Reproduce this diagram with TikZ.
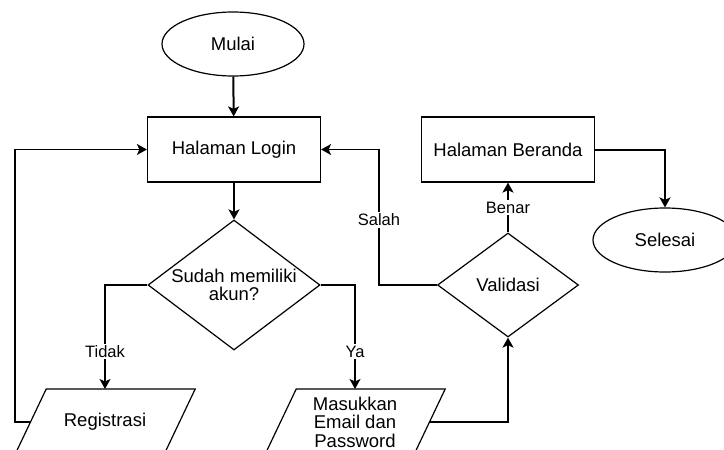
\documentclass[tikz,border=0pt]{standalone}
\usepackage{fontspec}
\setmainfont{Liberation Sans}
\usetikzlibrary{positioning,shapes.geometric,arrows.meta}
\newcommand{\ioframe}[1]{\draw[line width=1.2pt] ([xshift=15.7pt]#1.north west) -- ([xshift=15.7pt]#1.north east)
  -- ([xshift=-15.7pt]#1.south east) -- ([xshift=-15.7pt]#1.south west) -- cycle;}

\begin{document}
\begin{tikzpicture}[x=1pt, y=-1pt, >={Stealth[length=10pt,width=11pt,inset=2.5pt]},
      every node/.style={font=\fontsize{18.5}{18.5}\selectfont},
      terminal/.style={ellipse, draw, line width=1.2pt, minimum width=142pt, minimum height=64pt, inner sep=0pt},
      process/.style={rectangle, draw, line width=1.2pt, minimum width=173pt, minimum height=65pt},
      decision/.style={diamond, draw, line width=1.2pt, inner sep=0pt},
      io/.style={rectangle, minimum width=149pt, minimum height=66pt, inner sep=0pt, outer sep=0pt, align=center},
      lbl/.style={fill=white, inner sep=1.5pt, font=\fontsize{16.5}{18}\selectfont},
      flow/.style={line width=2pt, ->},
      link/.style={line width=1.2pt, ->}]
      \useasboundingbox (0,0) rectangle (724,450);
      \clip (0,0) rectangle (724,450);
      \coordinate (loopx) at (15,0);
      \coordinate (salahx) at (379,0);
      \node (mulai) at (233,44) [terminal] {Mulai};
      \node (login) at (234,149.5) [process] {Halaman Login};
      \draw[flow] (mulai) -- (login);
      \node (sudah) at (234,285) [decision, minimum width=172pt, minimum height=130pt, label={[align=center]center:Sudah memiliki\\akun?}] {};
      \draw[flow] (login) -- (sudah);
      \node (reg) at (105,422) [io] {Registrasi};
      \ioframe{reg}
      \draw[link] (sudah.west) -| node[lbl, pos=0.82] {Tidak} (reg.north);
      \node (masuk) at (355,422) [io] {Masukkan\\Email dan\\Password};
      \ioframe{masuk}
      \draw[link] (sudah.east) -| node[lbl, pos=0.82] {Ya} (masuk.north);
      % back to login
      \draw[link] (reg.west) -- (reg.west -| loopx) |- (login.west);
      \node (val) at (508,285) [decision, minimum width=141pt, minimum height=104pt] {Validasi};
      \draw[flow] (masuk.east) -| (val.south);
      \draw[link] (val.west) -- (val.west -| salahx) |- node[lbl, pos=0.24] {Salah} (login.east);
      \node (beranda) at (508,149.5) [process] {Halaman Beranda};
      \draw[flow] (val) -- node[lbl] {Benar} (beranda);
      \node (selesai) at (665,240) [terminal, minimum width=144pt] {Selesai};
      \draw[flow] (beranda.east) -| (selesai.north);
  \end{tikzpicture}
\end{document}
